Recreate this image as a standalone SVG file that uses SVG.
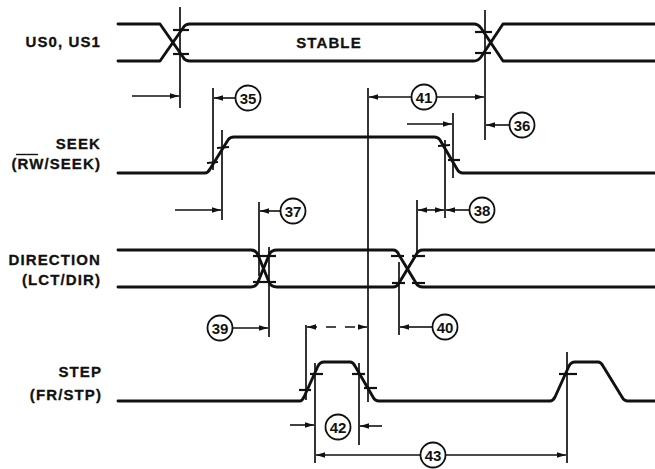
<svg xmlns="http://www.w3.org/2000/svg" width="655" height="469" viewBox="0 0 655 469">
<style>
.sig{fill:none;stroke:#111;stroke-width:2.9;stroke-linejoin:round;stroke-linecap:round}
.tk{stroke:#111;stroke-width:2.2}
.vl{stroke:#111;stroke-width:1.7}
.ar{stroke:#111;stroke-width:1.6;fill:none}
.lbl{font-family:"Liberation Sans",Arial,sans-serif;font-weight:bold;font-size:15px;letter-spacing:1.1px;fill:#111;text-anchor:end;stroke:#111;stroke-width:0.3}
.num{font-family:"Liberation Sans",Arial,sans-serif;font-weight:bold;font-size:15px;fill:#111;text-anchor:middle}
.cir{fill:#fff;stroke:#111;stroke-width:1.8}
</style>
<defs>
<marker id="ah" viewBox="0 0 10 6" refX="10" refY="3" markerWidth="9" markerHeight="5.5" markerUnits="userSpaceOnUse" orient="auto-start-reverse"><path d="M0,0 L10,3 L0,6 z" fill="#111"/></marker>
</defs>
<rect width="655" height="469" fill="#fff"/>

<g id="us">
<text class="lbl" x="101" y="47">US0, US1</text>
<path class="sig" d="M118,24 H160 L183,57 Q185,61 190,61 H474 Q478,61 481,57 L503,24 H655"/>
<path class="sig" d="M118,61 H160 L183,28 Q185,24 190,24 H474 Q478,24 481,28 L503,61 H655"/>
<text class="lbl" x="329" y="48" style="text-anchor:middle">STABLE</text>
<line class="tk" x1="173" y1="30" x2="189" y2="30"/>
<line class="tk" x1="173" y1="54" x2="189" y2="54"/>
<line class="tk" x1="475" y1="32" x2="492" y2="32"/>
<line class="tk" x1="475" y1="53" x2="491" y2="53"/>
</g>

<g id="seek">
<text class="lbl" x="101" y="149">SEEK</text>
<text class="lbl" x="101" y="169">(RW/SEEK)</text>
<line x1="16" y1="154.5" x2="38" y2="154.5" stroke="#111" stroke-width="1.4"/>
<path class="sig" d="M118,173 H205 Q208,173 210,169 L228,140 Q230,137 234,137 H434 Q438,137 440,140 L457,169 Q459,173 463,173 H655"/>
<line class="tk" x1="207" y1="163" x2="218" y2="162"/>
<line class="tk" x1="217" y1="148" x2="229" y2="147"/>
<line class="tk" x1="438" y1="146" x2="450" y2="145"/>
<line class="tk" x1="448" y1="160" x2="460" y2="160"/>
</g>

<g id="direction">
<text class="lbl" x="101" y="265">DIRECTION</text>
<text class="lbl" x="101" y="285">(LCT/DIR)</text>
<path class="sig" d="M118,250 H251 Q256,250 258,255 L269,282 Q271,287 277,287 H393 Q397,287 399,283 L416,255 Q418,250 423,250 H655"/>
<path class="sig" d="M118,287 H251 Q256,287 258,282 L269,255 Q271,250 277,250 H393 Q397,250 399,255 L416,283 Q418,287 423,287 H655"/>
<line class="tk" x1="253" y1="256" x2="264" y2="256"/>
<line class="tk" x1="264" y1="256" x2="276" y2="256"/>
<line class="tk" x1="253" y1="282" x2="264" y2="282"/>
<line class="tk" x1="264" y1="282" x2="276" y2="282"/>
<line class="tk" x1="391" y1="256" x2="404" y2="256"/>
<line class="tk" x1="412" y1="256" x2="425" y2="256"/>
<line class="tk" x1="392" y1="283" x2="405" y2="283"/>
<line class="tk" x1="412" y1="283" x2="425" y2="283"/>
</g>

<g id="step">
<text class="lbl" x="102" y="377">STEP</text>
<text class="lbl" x="102" y="400">(FR/STP)</text>
<path class="sig" d="M118,401 H300 Q302,401 304,397 L318,366 Q320,362 324,362 H350 Q353,362 355,366 L373,397 Q375,401 379,401 H550 Q553,401 555,397 L569,366 Q571,362 575,362 H598 Q601,362 603,366 L622,397 Q624,401 628,401 H655"/>
<line class="tk" x1="299" y1="390" x2="311" y2="390"/>
<line class="tk" x1="310" y1="374" x2="323" y2="374"/>
<line class="tk" x1="352" y1="374" x2="365" y2="374"/>
<line class="tk" x1="364" y1="388" x2="377" y2="388"/>
<line class="tk" x1="559" y1="374" x2="577" y2="374"/>
</g>

<g id="connectors">
<line class="vl" x1="180" y1="7" x2="180" y2="108"/>
<line class="vl" x1="213" y1="88" x2="213" y2="170"/>
<line class="vl" x1="222" y1="130" x2="222" y2="220"/>
<line class="vl" x1="368" y1="88" x2="368" y2="402"/>
<line class="vl" x1="485" y1="10" x2="485" y2="140"/>
<line class="vl" x1="453" y1="113" x2="453" y2="178"/>
<line class="vl" x1="445" y1="140" x2="445" y2="218"/>
<line class="vl" x1="417" y1="200" x2="417" y2="254"/>
<line class="vl" x1="259" y1="202" x2="259" y2="276"/>
<line class="vl" x1="269" y1="247" x2="269" y2="337"/>
<line class="vl" x1="399" y1="262" x2="399" y2="335"/>
<line class="vl" x1="306" y1="325" x2="306" y2="400"/>
<line class="vl" x1="315" y1="363" x2="315" y2="463"/>
<line class="vl" x1="359" y1="363" x2="359" y2="445"/>
<line class="vl" x1="567" y1="352" x2="567" y2="463"/>

<line class="ar" x1="132" y1="96" x2="179" y2="96" marker-end="url(#ah)"/>
<line class="ar" x1="236" y1="98" x2="214" y2="98" marker-end="url(#ah)"/>
<line class="ar" x1="411" y1="97" x2="369" y2="97" marker-end="url(#ah)"/>
<line class="ar" x1="437" y1="97" x2="484" y2="97" marker-end="url(#ah)"/>
<line class="ar" x1="510" y1="125" x2="486" y2="125" marker-end="url(#ah)"/>
<line class="ar" x1="407" y1="124" x2="452" y2="124" marker-end="url(#ah)"/>
<line class="ar" x1="175" y1="210" x2="221" y2="210" marker-end="url(#ah)"/>
<line class="ar" x1="281" y1="211" x2="260" y2="211" marker-end="url(#ah)"/>
<line class="ar" x1="418" y1="210" x2="444" y2="210" marker-start="url(#ah)" marker-end="url(#ah)"/>
<line class="ar" x1="470" y1="210" x2="446" y2="210" marker-end="url(#ah)"/>
<line class="ar" x1="232" y1="328" x2="268" y2="328" marker-end="url(#ah)"/>
<line class="ar" x1="432" y1="327" x2="400" y2="327" marker-end="url(#ah)"/>
<line class="ar" x1="307" y1="327" x2="367" y2="327" stroke-dasharray="10 9" marker-start="url(#ah)" marker-end="url(#ah)"/>
<line class="ar" x1="290" y1="425" x2="314" y2="425" marker-end="url(#ah)"/>
<line class="ar" x1="382" y1="426" x2="360" y2="426" marker-end="url(#ah)"/>
<line class="ar" x1="420" y1="455" x2="316" y2="455" marker-end="url(#ah)"/>
<line class="ar" x1="445" y1="455" x2="566" y2="455" marker-end="url(#ah)"/>
</g>

<g id="n35"><circle class="cir" cx="248" cy="98" r="12.5"/><text class="num" x="248" y="103.5">35</text></g>
<g id="n41"><circle class="cir" cx="424" cy="97" r="12.5"/><text class="num" x="424" y="102.5">41</text></g>
<g id="n36"><circle class="cir" cx="522" cy="125" r="12.5"/><text class="num" x="522" y="130.5">36</text></g>
<g id="n37"><circle class="cir" cx="293" cy="211" r="12.5"/><text class="num" x="293" y="216.5">37</text></g>
<g id="n38"><circle class="cir" cx="482" cy="210" r="12.5"/><text class="num" x="482" y="215.5">38</text></g>
<g id="n39"><circle class="cir" cx="220" cy="328" r="12.5"/><text class="num" x="220" y="333.5">39</text></g>
<g id="n40"><circle class="cir" cx="445" cy="327" r="12.5"/><text class="num" x="445" y="332.5">40</text></g>
<g id="n42"><circle class="cir" cx="338" cy="427" r="12.5"/><text class="num" x="338" y="432.5">42</text></g>
<g id="n43"><circle class="cir" cx="433" cy="455" r="12.5"/><text class="num" x="433" y="460.5">43</text></g>
</svg>
